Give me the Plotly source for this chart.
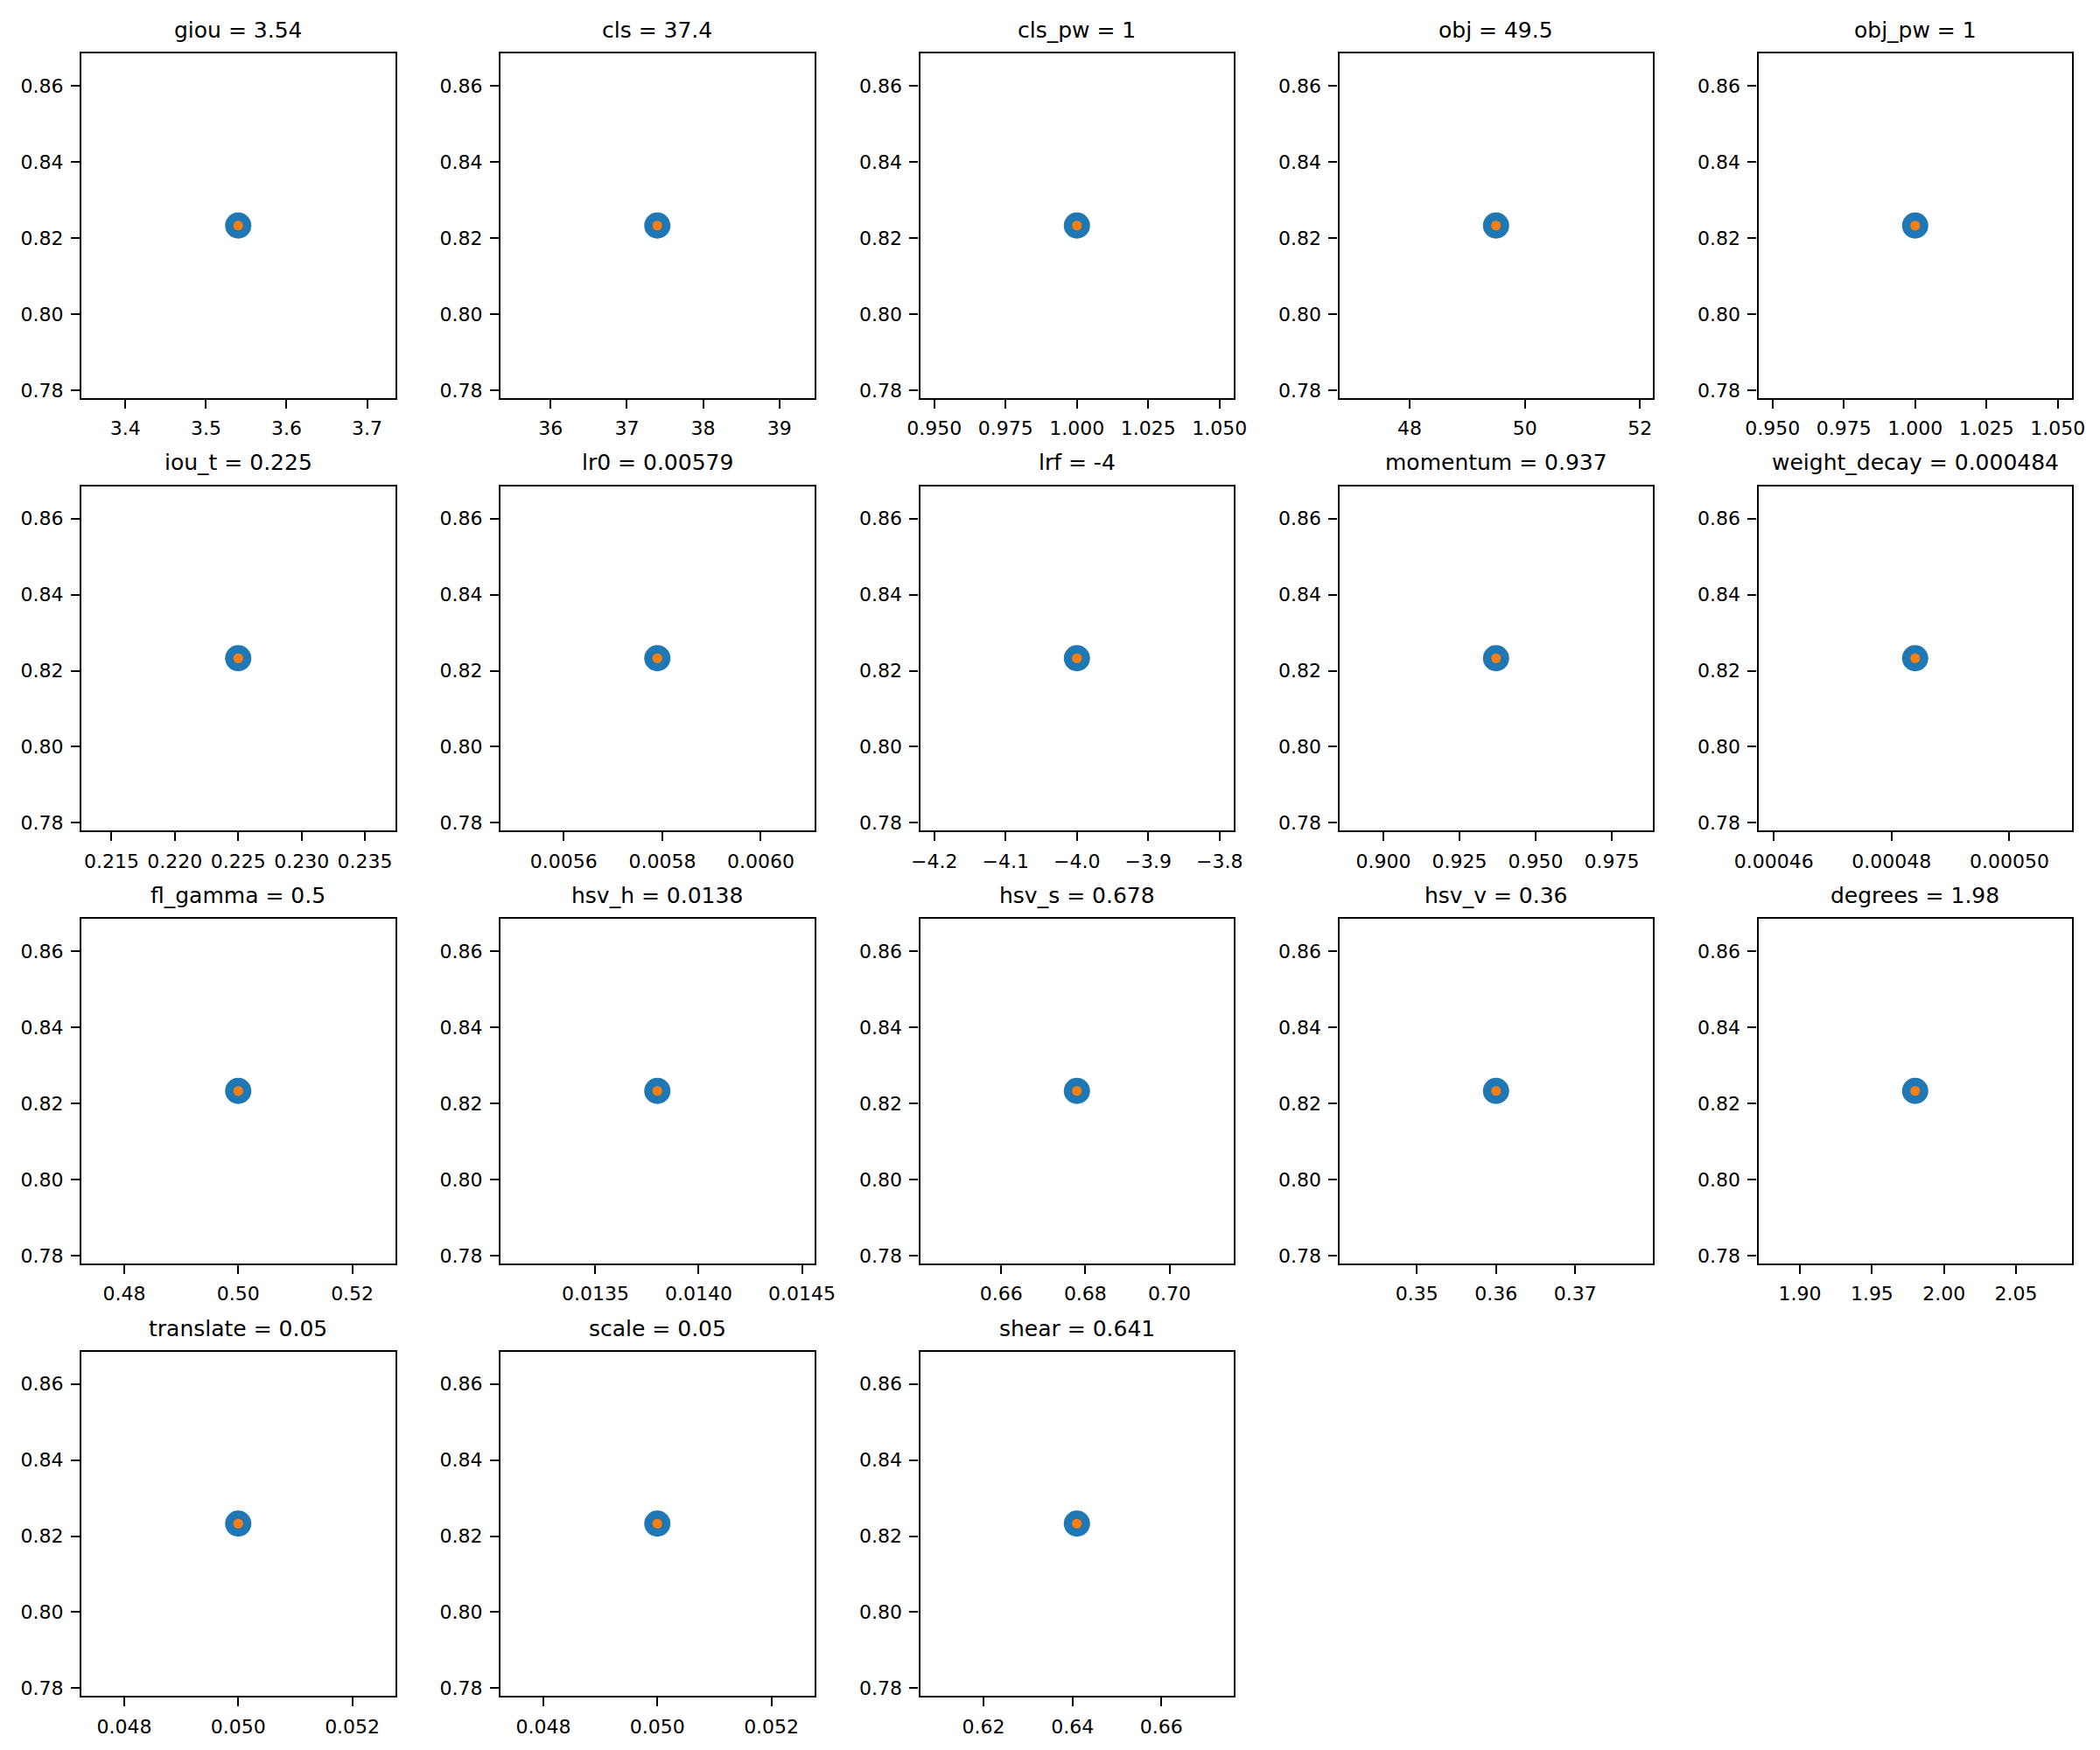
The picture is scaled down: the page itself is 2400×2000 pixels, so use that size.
import plotly.graph_objects as go

# ---- data ----
hyp_names = ["giou", "cls", "cls_pw", "obj", "obj_pw",
             "iou_t", "lr0", "lrf", "momentum", "weight_decay",
             "fl_gamma", "hsv_h", "hsv_s", "hsv_v", "degrees",
             "translate", "scale", "shear"]
hyp_values = [3.54, 37.4, 1.0, 49.5, 1.0,
              0.225, 0.00579, -4.0, 0.937, 0.000484,
              0.5, 0.0138, 0.678, 0.36, 1.98,
              0.05, 0.05, 0.641]
hyp_titles = ["3.54", "37.4", "1", "49.5", "1",
              "0.225", "0.00579", "-4", "0.937", "0.000484",
              "0.5", "0.0138", "0.678", "0.36", "1.98",
              "0.05", "0.05", "0.641"]
fitness = 0.8233

x_tick_labels = [
    ["3.4", "3.5", "3.6", "3.7"],
    ["36", "37", "38", "39"],
    ["0.950", "0.975", "1.000", "1.025", "1.050"],
    ["48", "50", "52"],
    ["0.950", "0.975", "1.000", "1.025", "1.050"],
    ["0.215", "0.220", "0.225", "0.230", "0.235"],
    ["0.0056", "0.0058", "0.0060"],
    ["\u22124.2", "\u22124.1", "\u22124.0", "\u22123.9", "\u22123.8"],
    ["0.900", "0.925", "0.950", "0.975"],
    ["0.00046", "0.00048", "0.00050"],
    ["0.48", "0.50", "0.52"],
    ["0.0135", "0.0140", "0.0145"],
    ["0.66", "0.68", "0.70"],
    ["0.35", "0.36", "0.37"],
    ["1.90", "1.95", "2.00", "2.05"],
    ["0.048", "0.050", "0.052"],
    ["0.048", "0.050", "0.052"],
    ["0.62", "0.64", "0.66"],
]
y_tick_labels = ["0.78", "0.80", "0.82", "0.84", "0.86"]

# ---- layout geometry (pixels, page coordinates) ----
W, H = 2400, 2000
OFF = 8  # default body margin of the html page
col_left = [93, 572, 1051.5, 1530.5, 2009.5]
row_top = [61, 555.5, 1050, 1544.5]
pw, ph = 358.5, 393.5

FONT = "DejaVu Sans"
BLUE = "#1f77b4"
ORANGE = "#ff7f0e"


def lab2num(s):
    return float(s.replace("\u2212", "-"))


def srange(v):
    # matplotlib singular expansion (5%) plus 5% margins
    a = abs(v) if v != 0 else 1.0
    return [v - 0.055 * a, v + 0.055 * a]


fig = go.Figure()
annotations = []
layout_axes = {}

for i, (name, val) in enumerate(zip(hyp_names, hyp_values)):
    r, c = divmod(i, 5)
    n = i + 1
    xa = "x" if n == 1 else f"x{n}"
    ya = "y" if n == 1 else f"y{n}"
    x0 = (col_left[c] - OFF) / W
    x1 = (col_left[c] - OFF + pw) / W
    y1 = 1 - (row_top[r] - OFF) / H
    y0 = 1 - (row_top[r] - OFF + ph) / H

    fig.add_trace(go.Scatter(x=[val], y=[fitness], mode="markers",
                             marker=dict(color=BLUE, size=30, line=dict(width=0)),
                             xaxis=xa, yaxis=ya, showlegend=False, hoverinfo="skip"))
    fig.add_trace(go.Scatter(x=[val], y=[fitness], mode="markers",
                             marker=dict(color=ORANGE, size=11, line=dict(width=0)),
                             xaxis=xa, yaxis=ya, showlegend=False, hoverinfo="skip"))

    common = dict(showline=True, mirror=True, linecolor="black", linewidth=2.2,
                  ticks="outside", ticklen=10, tickwidth=2.2, tickcolor="black",
                  showgrid=False, zeroline=False, automargin=False,
                  tickfont=dict(family=FONT, size=22, color="black"),
                  ticklabelstandoff=4)
    xl = x_tick_labels[i]
    layout_axes[("xaxis" if n == 1 else f"xaxis{n}")] = dict(
        common, domain=[x0, x1], anchor=ya, range=srange(val),
        tickmode="array", tickvals=[lab2num(s) for s in xl], ticktext=xl)
    layout_axes[("yaxis" if n == 1 else f"yaxis{n}")] = dict(
        common, domain=[y0, y1], anchor=xa, range=srange(fitness),
        tickmode="array", tickvals=[lab2num(s) for s in y_tick_labels],
        ticktext=y_tick_labels)

    annotations.append(dict(text=f"{name} = {hyp_titles[i]}",
                            xref=f"{xa} domain", yref=f"{ya} domain",
                            x=0.5, y=1, xanchor="center", yanchor="bottom",
                            yshift=10, showarrow=False,
                            font=dict(family=FONT, size=25, color="black")))

fig.update_layout(template="none", width=W, height=H,
                  margin=dict(l=0, r=0, t=0, b=0, pad=0, autoexpand=False),
                  paper_bgcolor="white", plot_bgcolor="white",
                  annotations=annotations, showlegend=False, **layout_axes)

fig.write_html("out.html")
